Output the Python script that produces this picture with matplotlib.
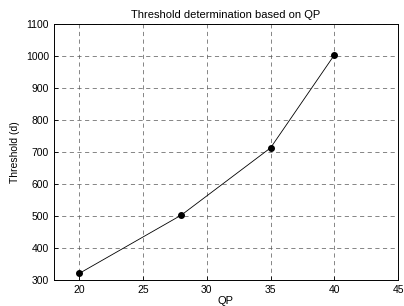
import matplotlib.pyplot as plt

qp = [20, 28, 35, 40]
threshold = [321, 503, 713, 1003]
xticks = [20, 25, 30, 35, 40, 45]
yticks = [300, 400, 500, 600, 700, 800, 900, 1000, 1100]

plt.rcParams['font.family'] = 'Liberation Sans'
plt.rcParams['font.size'] = 7.5

fig = plt.figure(figsize=(4.04, 3.06), dpi=100)
ax = fig.add_axes([54 / 404, 26 / 306, 344 / 404, 256 / 306])

ax.plot(qp, threshold, color='black', linewidth=0.6, marker='o',
        markersize=4, markerfacecolor='black')

ax.set_xlim(18, 45)
ax.set_ylim(300, 1100)
ax.set_xticks(xticks)
ax.set_yticks(yticks)
ax.tick_params(direction='in', length=3, width=0.6)
ax.grid(True, color='#555555', linestyle=(0, (6, 5)), linewidth=0.5)
for s in ax.spines.values():
    s.set_linewidth(0.7)

ax.set_title('Threshold determination based on QP', fontsize=8, pad=4)
ax.set_xlabel('QP', fontsize=8, labelpad=1)
ax.set_ylabel('Threshold (d)', fontsize=7.5, labelpad=4)

fig.savefig('out.png', dpi=100)
